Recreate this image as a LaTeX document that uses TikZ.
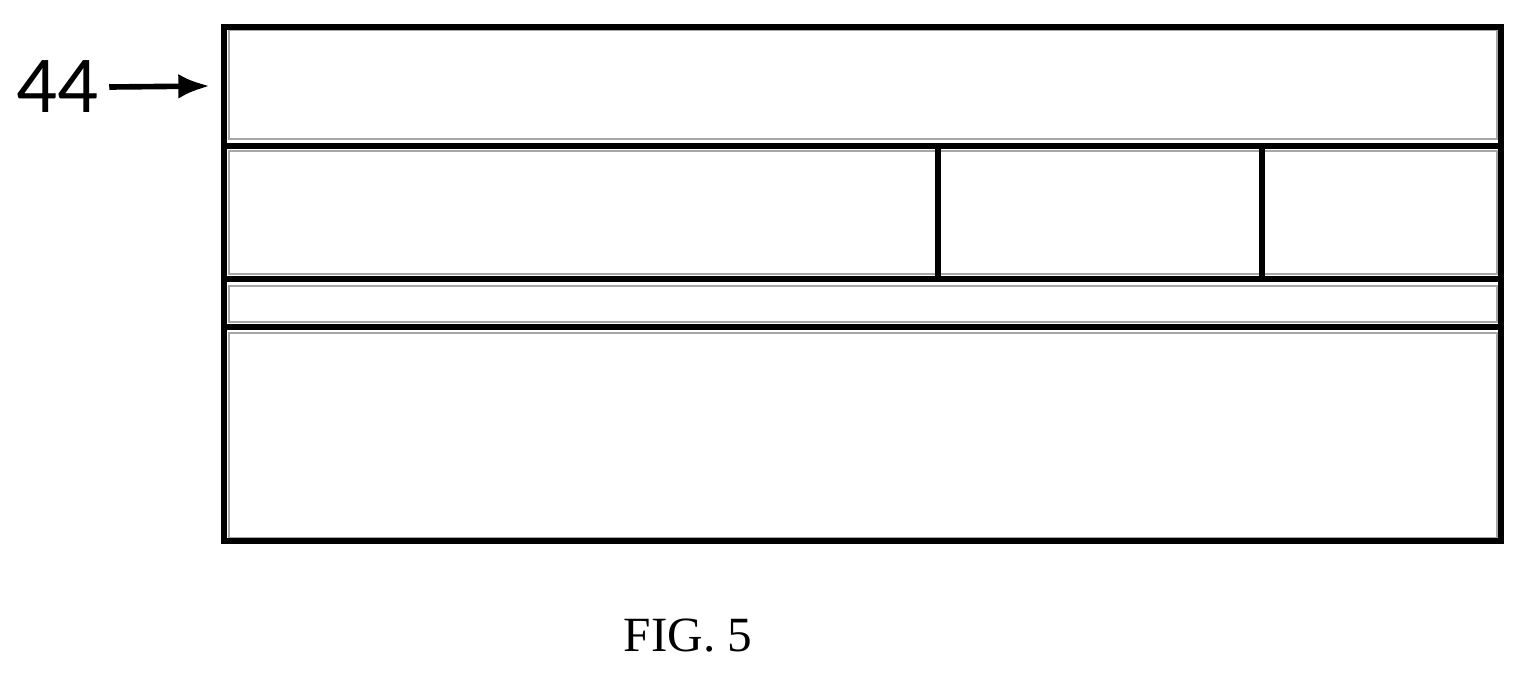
\documentclass[tikz,border=0pt]{standalone}
\usepackage{fontspec}
\setmainfont{Liberation Serif}
\newfontfamily\labelfont{Carlito}
\usetikzlibrary{arrows.meta,positioning}
\tikzset{
	layer/.style={draw=black, line width=1.6pt},
	inner/.style={draw=gray!70, line width=0.6pt},
	ref/.style={font=\labelfont\fontsize{23}{23}\selectfont, inner sep=0pt}
}
\begin{document}
\begin{tikzpicture}[x=0.01cm,y=-0.01cm]
	\useasboundingbox (0,0) rectangle (1538,675);
	
	% Inner layer outlines
	\draw[inner] (229,30) rectangle (1497,139);
	\draw[inner] (229,151) rectangle (1497,274);
	\draw[inner] (229,286) rectangle (1497,322);
	\draw[inner] (229,333) rectangle (1497,538);
	
	% Layer boundaries
	\draw[layer] (224,27) rectangle (1501,541);
	\draw[layer] (224,146) -- (1501,146);
	\draw[layer] (224,279) -- (1501,279);
	\draw[layer] (224,327) -- (1501,327);
	\draw[layer] (938,146) -- (938,279);
	\draw[layer] (1262,146) -- (1262,279);
	
	% Reference label
	\node[ref] (l44) at (57,87) {44};
	\coordinate (t44) at (210,86);
	\draw[line width=1.6pt,-{Latex[length=9pt,width=7pt]}] (l44.east) ++(3pt,0) -- (t44);
	
	\node (fig) at (688,636) {\fontsize{14}{14}\selectfont FIG. 5};
\end{tikzpicture}
\end{document}
